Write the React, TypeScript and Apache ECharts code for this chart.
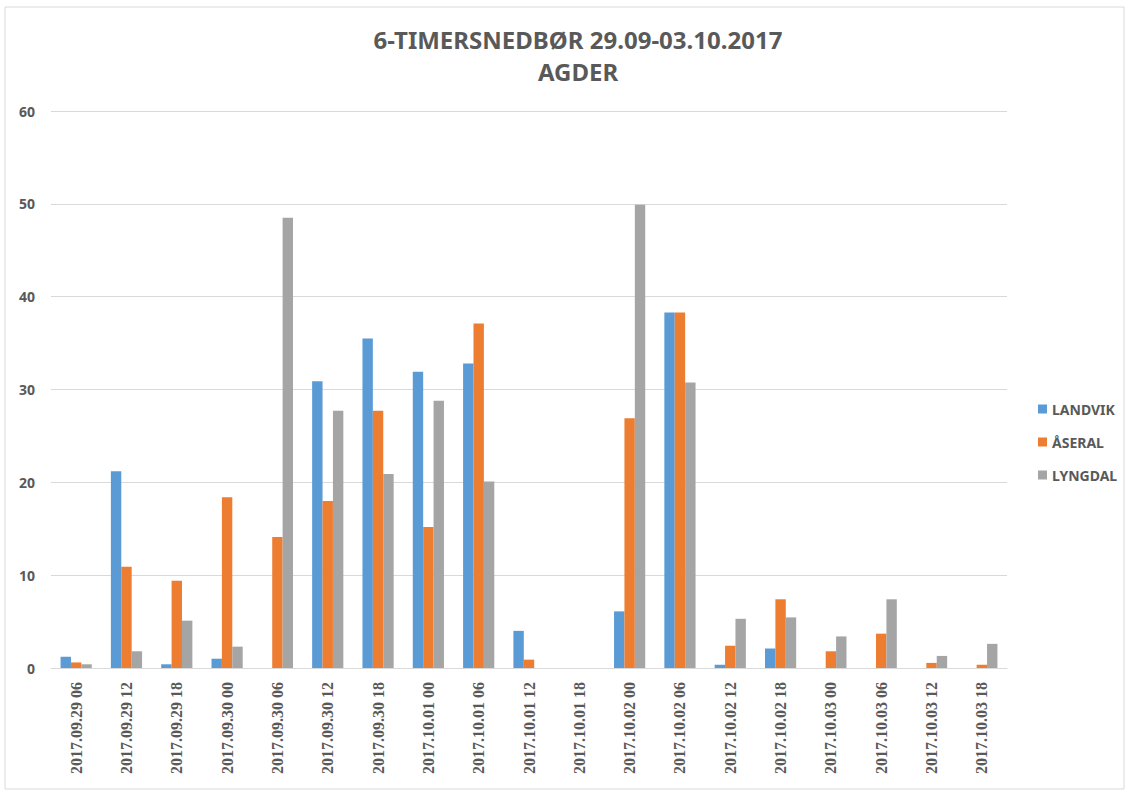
import React, { useEffect, useRef } from "react";
import * as echarts from "echarts";

const categories = [
  "2017.09.29 06", "2017.09.29 12", "2017.09.29 18", "2017.09.30 00", "2017.09.30 06",
  "2017.09.30 12", "2017.09.30 18", "2017.10.01 00", "2017.10.01 06", "2017.10.01 12",
  "2017.10.01 18", "2017.10.02 00", "2017.10.02 06", "2017.10.02 12", "2017.10.02 18",
  "2017.10.03 00", "2017.10.03 06", "2017.10.03 12", "2017.10.03 18",
];

const landvik = [1.2, 21.2, 0.4, 1.0, 0, 30.9, 35.5, 31.9, 32.8, 4.0, 0, 6.1, 38.3, 0.35, 2.1, 0, 0, 0, 0];
const aseral = [0.6, 10.9, 9.4, 18.4, 14.1, 18.0, 27.7, 15.2, 37.1, 0.9, 0, 26.9, 38.3, 2.4, 7.4, 1.8, 3.7, 0.55, 0.35];
const lyngdal = [0.4, 1.8, 5.1, 2.3, 48.5, 27.7, 20.9, 28.8, 20.1, 0, 0, 49.9, 30.75, 5.3, 5.45, 3.4, 7.4, 1.3, 2.6];

const seriesNames = ["LANDVIK", "ÅSERAL", "LYNGDAL"];
const seriesColors = ["#5B9BD5", "#ED7D31", "#A5A5A5"];
const yTicks = { min: 0, max: 60, interval: 10 };

const textColor = "#595959";

export default function App() {
  const ref = useRef<HTMLDivElement>(null);

  useEffect(() => {
    document.body.style.margin = "0";
    const chart = echarts.init(ref.current!, null, { renderer: "svg" });
    const data = [landvik, aseral, lyngdal];
    chart.setOption({
      animation: false,
      backgroundColor: "#ffffff",
      title: {
        text: "6-TIMERSNEDBØR 29.09-03.10.2017\nAGDER",
        left: 573,
        top: 18,
        textAlign: "center",
        textStyle: {
          fontFamily: "Noto Sans",
          fontWeight: "bold",
          fontSize: 24,
          lineHeight: 32,
          color: textColor,
        },
      },
      legend: {
        orient: "vertical",
        left: 1033,
        top: 397,
        itemWidth: 9,
        itemHeight: 9,
        itemGap: 19,
        icon: "rect",
        data: seriesNames,
        textStyle: {
          fontFamily: "Noto Sans",
          fontWeight: "bold",
          fontSize: 14,
          lineHeight: 14,
          color: textColor,
        },
      },
      grid: { left: 51, right: 122, top: 111, bottom: 124, containLabel: false },
      xAxis: {
        type: "category",
        data: categories,
        axisLine: { show: true, lineStyle: { color: "#d9d9d9", width: 1 } },
        axisTick: { show: false },
        axisLabel: {
          rotate: 90,
          interval: 0,
          margin: 14,
          fontFamily: "Liberation Serif",
          fontWeight: "bold",
          fontSize: 16,
          color: textColor,
        },
      },
      yAxis: {
        type: "value",
        min: yTicks.min,
        max: yTicks.max,
        interval: yTicks.interval,
        axisLine: { show: false },
        axisTick: { show: false },
        splitLine: { lineStyle: { color: "#d9d9d9", width: 1 } },
        axisLabel: {
          margin: 16,
          fontFamily: "Noto Sans",
          fontWeight: "bold",
          fontSize: 14,
          color: textColor,
        },
      },
      series: seriesNames.map((name, i) => ({
        name,
        type: "bar",
        data: data[i],
        barGap: "0%",
        barCategoryGap: "38%",
        itemStyle: { color: seriesColors[i] },
      })),
      graphic: [
        {
          type: "rect",
          shape: { x: 5, y: 7, width: 1119, height: 782 },
          style: { fill: "none", stroke: "#d9d9d9", lineWidth: 1 },
          silent: true,
        },
      ],
    });
    return () => chart.dispose();
  }, []);

  return <div ref={ref} style={{ width: 1129, height: 792 }} />;
}
